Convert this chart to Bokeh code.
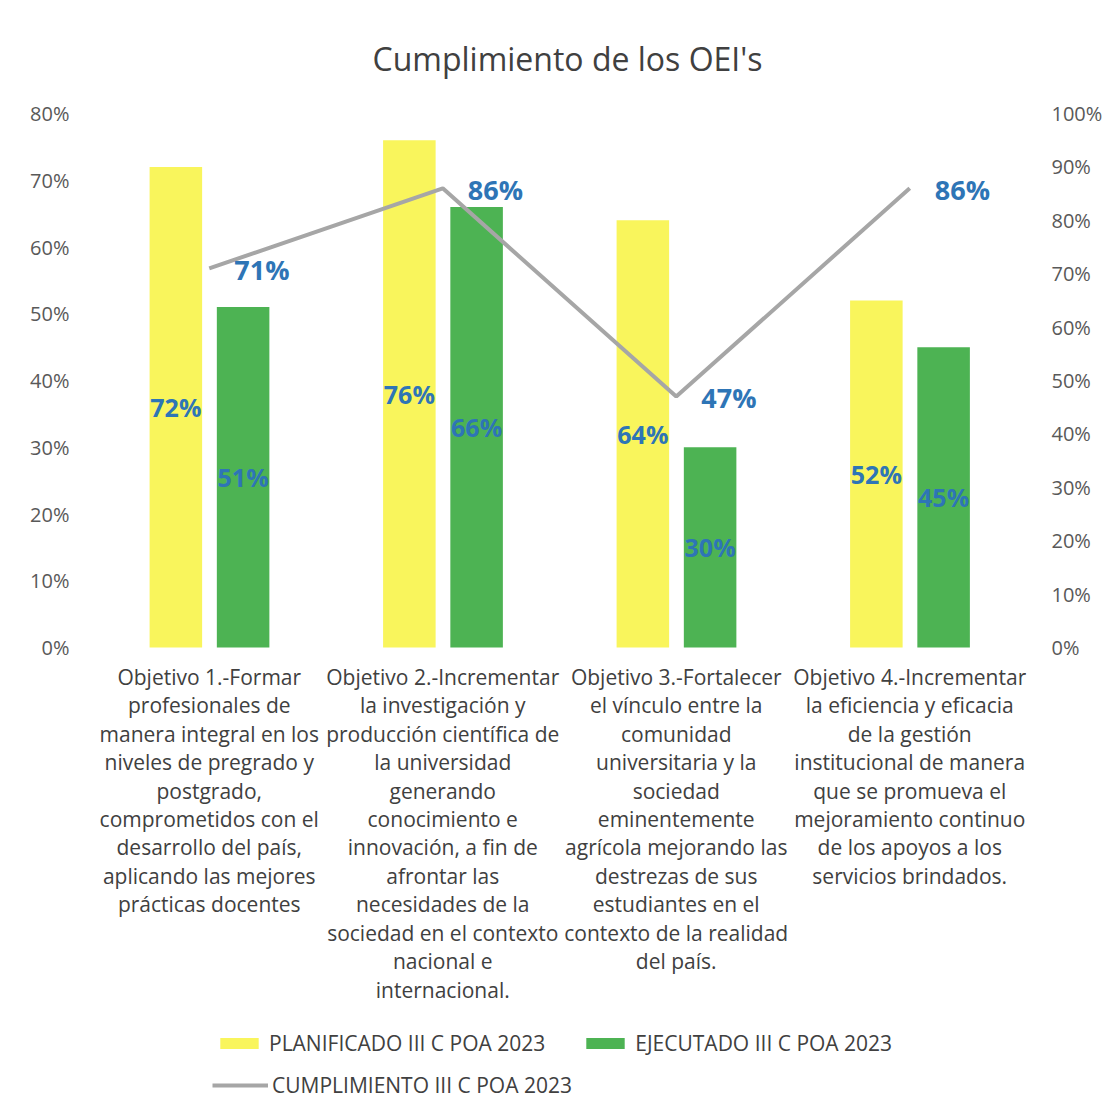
from bokeh.plotting import figure
from bokeh.models import (Range1d, LinearAxis, FixedTicker, PrintfTickFormatter,
                          ColumnDataSource, Legend, LegendItem, FactorRange)
from bokeh.transform import dodge
from bokeh.core.properties import value
from bokeh.embed import file_html
from bokeh.resources import INLINE

categories = [
    "Objetivo 1.-Formar\nprofesionales de\nmanera integral en los\nniveles de pregrado y\npostgrado,\ncomprometidos con el\ndesarrollo del país,\naplicando las mejores\nprácticas docentes",
    "Objetivo 2.-Incrementar\nla investigación y\nproducción científica de\nla universidad\ngenerando\nconocimiento e\ninnovación, a fin de\nafrontar las\nnecesidades de la\nsociedad en el contexto\nnacional e\ninternacional.",
    "Objetivo 3.-Fortalecer\nel vínculo entre la\ncomunidad\nuniversitaria y la\nsociedad\neminentemente\nagrícola mejorando las\ndestrezas de sus\nestudiantes en el\ncontexto de la realidad\ndel país.",
    "Objetivo 4.-Incrementar\nla eficiencia y eficacia\nde la gestión\ninstitucional de manera\nque se promueva el\nmejoramiento continuo\nde los apoyos a los\nservicios brindados.",
]
planificado = [72, 76, 64, 52]
ejecutado = [51, 66, 30, 45]
cumplimiento = [71, 86, 47, 86]
left_ticks = [0, 10, 20, 30, 40, 50, 60, 70, 80]
right_ticks = [0, 10, 20, 30, 40, 50, 60, 70, 80, 90, 100]

FONT = "Open Sans"
YEL = "#F9F55C"
GRN = "#4DB353"
GRAY = "#A6A6A6"
BLUE = "#2E75B6"
TXT = "#404040"

y0, y1 = -68.0, 81.95
p = figure(width=1105, height=1104, x_range=FactorRange(*categories),
           y_range=Range1d(y0, y1), output_backend="svg", toolbar_location=None,
           title="Cumplimiento de los OEI's",
           min_border_left=92, min_border_right=71, min_border_top=100, min_border_bottom=3)
p.extra_y_ranges = {"right": Range1d(y0 * 1.25, y1 * 1.25)}

p.title.align = "left"
p.title.offset = 280
p.title.text_font = FONT
p.title.text_font_size = "32px"
p.title.text_font_style = "normal"
p.title.text_color = TXT
p.title.standoff = 41

p.outline_line_color = None
p.xgrid.visible = False
p.ygrid.visible = False
p.xaxis.visible = False

p.yaxis[0].ticker = FixedTicker(ticks=left_ticks)
ra = LinearAxis(y_range_name="right", ticker=FixedTicker(ticks=right_ticks))
p.add_layout(ra, "right")
for ax in p.yaxis:
    ax.formatter = PrintfTickFormatter(format="%d%%")
    ax.axis_line_color = None
    ax.major_tick_line_color = None
    ax.minor_tick_line_color = None
    ax.major_label_text_font = FONT
    ax.major_label_text_font_size = "20px"
    ax.major_label_text_color = "#595959"
p.yaxis[0].major_label_standoff = 17
ra.major_label_standoff = 19

src = ColumnDataSource(dict(
    cat=categories, plan=planificado, ejec=ejecutado, cump=cumplimiento,
    plan_mid=[v / 2 for v in planificado], ejec_mid=[v / 2 for v in ejecutado],
    plan_lbl=[f"{v}%" for v in planificado], ejec_lbl=[f"{v}%" for v in ejecutado],
    cump_lbl=[f"{v}%" for v in cumplimiento],
    lab_y=[-2.3] * len(categories),
))

r_plan = p.vbar(x=dodge("cat", -0.143, range=p.x_range), top="plan", width=0.225,
                source=src, fill_color=YEL, line_color=None)
r_ejec = p.vbar(x=dodge("cat", 0.145, range=p.x_range), top="ejec", width=0.225,
                source=src, fill_color=GRN, line_color=None)
r_line = p.line(x="cat", y="cump", source=src, y_range_name="right",
                line_color=GRAY, line_width=4)

p.text(x=dodge("cat", -0.143, range=p.x_range), y="plan_mid", text="plan_lbl", source=src,
       text_font=value(FONT), text_font_size="25px", text_font_style="bold",
       text_color=BLUE, text_align="center", text_baseline="middle")
p.text(x=dodge("cat", 0.145, range=p.x_range), y="ejec_mid", text="ejec_lbl", source=src,
       text_font=value(FONT), text_font_size="25px", text_font_style="bold",
       text_color=BLUE, text_align="center", text_baseline="middle")
p.text(x="cat", y="cump", text="cump_lbl", source=src, y_range_name="right",
       x_offset=25, y_offset=1,
       text_font=value(FONT), text_font_size="27px", text_font_style="bold",
       text_color=BLUE, text_align="left", text_baseline="middle")

p.text(x="cat", y="lab_y", text="cat", source=src,
       text_font=value(FONT), text_font_size="21px", text_color=TXT,
       text_align="center", text_baseline="top", text_line_height=1.015)

leg1 = Legend(items=[LegendItem(label="PLANIFICADO III C POA 2023", renderers=[r_plan]),
                     LegendItem(label="EJECUTADO III C POA 2023", renderers=[r_ejec])],
              orientation="horizontal", location=(123, 44))
leg2 = Legend(items=[LegendItem(label="CUMPLIMIENTO III C POA 2023", renderers=[r_line])],
              orientation="horizontal", location=(120, 2))
for lg in (leg1, leg2):
    lg.border_line_color = None
    lg.background_fill_alpha = 0
    lg.padding = 0
    lg.margin = 0
    lg.spacing = 36
    lg.glyph_width = 48
    lg.glyph_height = 14
    lg.label_standoff = 6
    lg.label_text_font = FONT
    lg.label_text_font_size = "21px"
    lg.label_text_color = TXT
leg2.glyph_width = 56
leg2.label_standoff = 4
p.add_layout(leg1)
p.add_layout(leg2)

open("out.html", "w").write(file_html(p, INLINE))
